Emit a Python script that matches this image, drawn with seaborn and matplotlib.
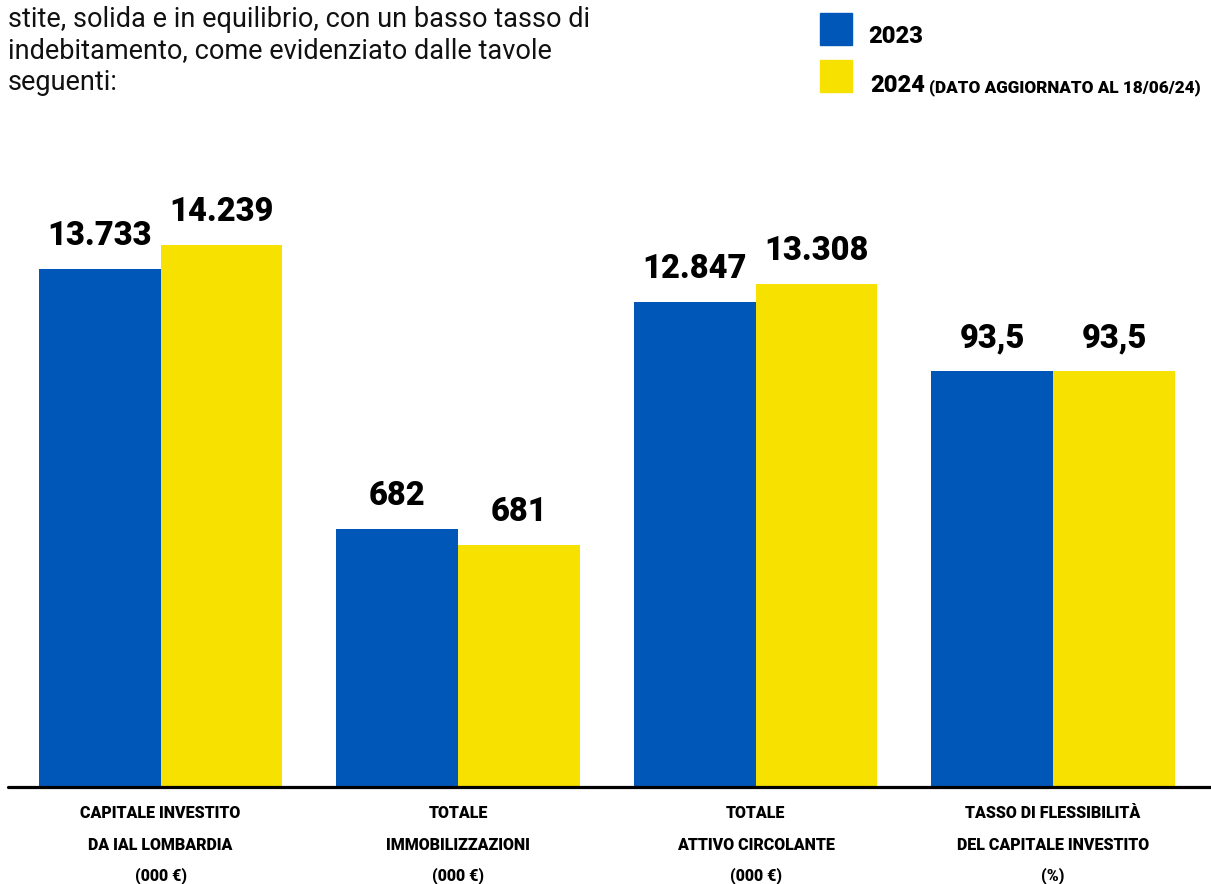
import pandas as pd
import seaborn as sns
import matplotlib.pyplot as plt
from matplotlib.lines import Line2D
from matplotlib.patches import Rectangle

# data (bar heights are the drawn heights, labels are the printed values)
categories = ['CAPITALE INVESTITO\nDA IAL LOMBARDIA\n(000 €)',
              'TOTALE\nIMMOBILIZZAZIONI\n(000 €)',
              'TOTALE\nATTIVO CIRCOLANTE\n(000 €)',
              'TASSO DI FLESSIBILITÀ\nDEL CAPITALE INVESTITO\n(%)']
heights_2023 = [517, 257, 484, 415]
heights_2024 = [541, 241, 502, 415]
labels_2023 = ['13.733', '682', '12.847', '93,5']
labels_2024 = ['14.239', '681', '13.308', '93,5']
years = ['2023', '2024']

blue = '#0057b8'
yellow = '#f7e100'

sns.set_style('white')
plt.rcParams['font.family'] = ['Roboto', 'DejaVu Sans']
plt.rcParams['text.color'] = 'black'

df = pd.DataFrame({
    'categoria': categories * 2,
    'anno': [years[0]] * 4 + [years[1]] * 4,
    'valore': heights_2023 + heights_2024,
})

fig = plt.figure(figsize=(12.11, 8.84), dpi=100)
ax = fig.add_axes([0, 98 / 884, 1, 786 / 884])
sns.barplot(data=df, x='categoria', y='valore', hue='anno', palette=[blue, yellow],
            width=0.82, saturation=1, legend=False, linewidth=0, ax=ax)
ax.set_xlim(-0.5395, 3.531)
ax.set_ylim(0, 786)

for cont, labs in zip(ax.containers, [labels_2023, labels_2024]):
    ax.bar_label(cont, labels=labs, padding=12, fontsize=23.5, fontweight='black', color='black')

for s in ax.spines.values():
    s.set_visible(False)
ax.set_yticks([])
ax.set_xticks([])
ax.set_xlabel('')
ax.set_ylabel('')

# category labels, one text per line
line_base = [818, 850.5, 880]
for i, cat in enumerate(categories):
    for j, part in enumerate(cat.split('\n')):
        ax.text(i, (786 - line_base[j]) / 786, part, transform=ax.get_xaxis_transform(),
                ha='center', va='baseline', fontsize=11.5, fontweight='black',
                color='black', clip_on=False)

# baseline
fig.add_artist(Line2D([8 / 1211, 1], [97.5 / 884, 97.5 / 884], color='black', lw=2.3))

# intro text
intro = ['stite, solida e in equilibrio, con un basso tasso di',
         'indebitamento, come evidenziato dalle tavole',
         'seguenti:']
for i, line in enumerate(intro):
    fig.text(8 / 1211, 1 - (27 + 31.5 * i) / 884, line, fontsize=19.5,
             va='baseline', ha='left', color='#111111')

# legend
fig.add_artist(Rectangle((820 / 1211, 1 - 45 / 884), 32 / 1211, 32 / 884,
                         color=blue, transform=fig.transFigure))
fig.add_artist(Rectangle((820 / 1211, 1 - 92 / 884), 32 / 1211, 32 / 884,
                         color=yellow, transform=fig.transFigure))
fig.text(868 / 1211, 1 - 43 / 884, years[0], fontsize=17, fontweight='black', va='baseline')
fig.text(870 / 1211, 1 - 92 / 884, years[1], fontsize=17, fontweight='black', va='baseline')
fig.text(929 / 1211, 1 - 92 / 884, '(DATO AGGIORNATO AL 18/06/24)', fontsize=12.3,
         fontweight='black', va='baseline')

plt.savefig('out.png', dpi=100)
plt.close()
